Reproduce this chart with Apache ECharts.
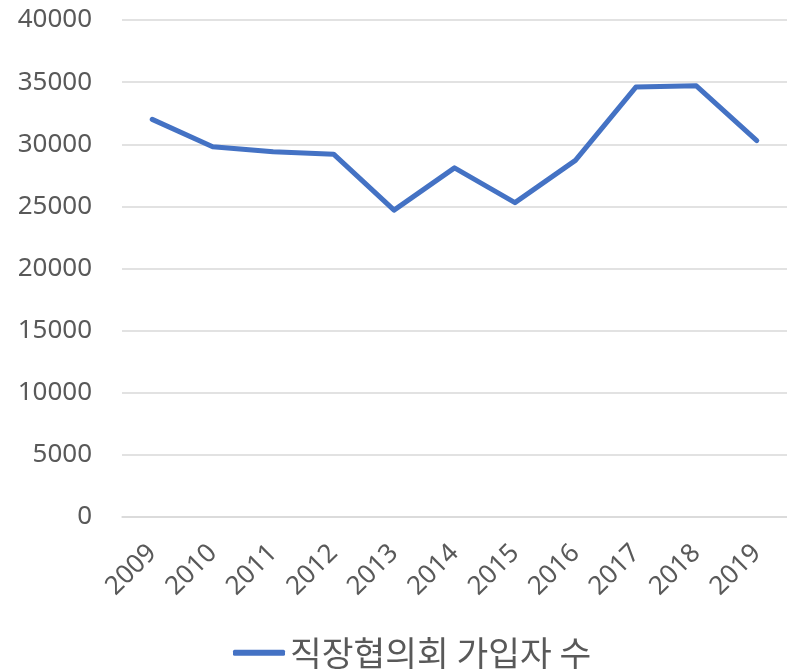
<!DOCTYPE html>
<html>
<head>
<meta charset="utf-8">
<script src="https://cdn.jsdelivr.net/npm/echarts@6/dist/echarts.min.js"></script>
<style>
  html, body { margin: 0; padding: 0; background: #fff; }
  #chart { width: 787px; height: 672px; }
</style>
</head>
<body>
<div id="chart"></div>
<script>
var years = ['2009', '2010', '2011', '2012', '2013', '2014', '2015', '2016', '2017', '2018', '2019'];
var members = [32000, 29800, 29400, 29200, 24700, 28100, 25300, 28700, 34600, 34700, 30300];
var seriesName = '직장협의회 가입자 수';

var font = '"Noto Sans", "Noto Sans CJK KR", sans-serif';
var cjkFont = '"Noto Sans CJK KR", sans-serif';

var option = {
  animation: false,
  backgroundColor: '#fff',
  grid: {
    left: 122,
    right: -6,
    top: 20,
    bottom: 155
  },
  legend: {
    bottom: -3,
    left: 228,
    data: [seriesName],
    itemWidth: 52,
    itemHeight: 6,
    itemGap: 6,
    icon: 'roundRect',
    textStyle: { fontSize: 34.5, color: '#595959', fontFamily: cjkFont }
  },
  xAxis: {
    type: 'category',
    data: years,
    boundaryGap: true,
    axisLine: { show: true, lineStyle: { color: '#d9d9d9', width: 1.5 } },
    axisTick: { show: false },
    axisLabel: {
      rotate: 45,
      fontSize: 26,
      color: '#595959',
      fontFamily: font,
      margin: 32
    }
  },
  yAxis: {
    type: 'value',
    min: 0,
    max: 40000,
    interval: 5000,
    axisLine: { show: false },
    axisTick: { show: false },
    splitLine: { lineStyle: { color: '#d9d9d9', width: 1.5 } },
    axisLabel: {
      fontSize: 26,
      color: '#595959',
      fontFamily: font,
      margin: 30,
      formatter: function (v) { return String(v); }
    }
  },
  series: [
    {
      name: seriesName,
      type: 'line',
      data: members,
      symbol: 'none',
      lineStyle: { color: '#4472c4', width: 5, cap: 'round', join: 'round' },
      itemStyle: { color: '#4472c4' }
    }
  ]
};

var chart = echarts.init(document.getElementById('chart'));
chart.setOption(option, true);
</script>
</body>
</html>
